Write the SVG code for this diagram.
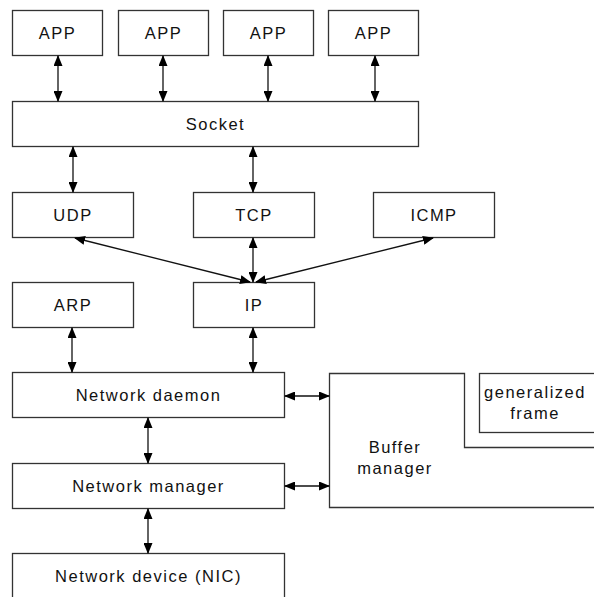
<svg xmlns="http://www.w3.org/2000/svg" width="594" height="597" viewBox="0 0 594 597">
<style>
.box{fill:#fff;stroke:#333;stroke-width:1.3}
.lbl{font-family:"Liberation Sans",Arial,sans-serif;font-size:16.5px;letter-spacing:1.5px;fill:#111;text-anchor:middle;dominant-baseline:central}
.con{stroke:#111;stroke-width:1.3;fill:none;marker-start:url(#ah);marker-end:url(#ah)}
</style>
<defs>
<marker id="ah" markerUnits="userSpaceOnUse" markerWidth="11" markerHeight="9" refX="10" refY="4.5" orient="auto-start-reverse" viewBox="0 0 11 9">
<path d="M0,0 L11,4.5 L0,9 Z" fill="#000"/>
</marker>
</defs>
<rect width="594" height="597" fill="#fff"/>
<g id="app1"><rect class="box" x="12.5" y="10.5" width="90" height="45"/><text class="lbl" x="57.5" y="32.5">APP</text></g>
<g id="app2"><rect class="box" x="118.5" y="10.5" width="90" height="45"/><text class="lbl" x="163.5" y="32.5">APP</text></g>
<g id="app3"><rect class="box" x="223.5" y="10.5" width="90" height="45"/><text class="lbl" x="268.5" y="32.5">APP</text></g>
<g id="app4"><rect class="box" x="328.5" y="10.5" width="90" height="45"/><text class="lbl" x="373.5" y="32.5">APP</text></g>
<g id="socket"><rect class="box" x="12.5" y="101.5" width="406" height="45"/><text class="lbl" x="215.5" y="123.5">Socket</text></g>
<g id="udp"><rect class="box" x="12.5" y="192.5" width="121" height="45"/><text class="lbl" x="73" y="214.5">UDP</text></g>
<g id="tcp"><rect class="box" x="193.5" y="192.5" width="121" height="45"/><text class="lbl" x="254" y="214.5">TCP</text></g>
<g id="icmp"><rect class="box" x="373.5" y="192.5" width="121" height="45"/><text class="lbl" x="434" y="214.5">ICMP</text></g>
<g id="arp"><rect class="box" x="12.5" y="282.5" width="121" height="45"/><text class="lbl" x="73" y="304.5">ARP</text></g>
<g id="ip"><rect class="box" x="193.5" y="282.5" width="121" height="45"/><text class="lbl" x="254" y="304.5">IP</text></g>
<g id="netdaemon"><rect class="box" x="12.5" y="372.5" width="272" height="45"/><text class="lbl" x="148.5" y="394.5">Network daemon</text></g>
<g id="netmanager"><rect class="box" x="12.5" y="463.5" width="272" height="45"/><text class="lbl" x="148.5" y="485.5">Network manager</text></g>
<g id="netdevice"><rect class="box" x="12.5" y="553.5" width="272" height="50"/><text class="lbl" x="148.5" y="575.5">Network device (NIC)</text></g>
<g id="buffer"><path class="box" d="M329.5,373.5 H464.5 V447.5 H600 V507.5 H329.5 Z"/><text class="lbl" x="395" y="447">Buffer</text><text class="lbl" x="395" y="468">manager</text></g>
<g id="genframe"><rect class="box" x="479.5" y="373.5" width="130" height="59"/><text class="lbl" x="535" y="392">generalized</text><text class="lbl" x="535" y="413">frame</text></g>
<g id="connectors">
<line class="con" x1="58" y1="56" x2="58" y2="101"/>
<line class="con" x1="163" y1="56" x2="163" y2="101"/>
<line class="con" x1="268" y1="56" x2="268" y2="101"/>
<line class="con" x1="375" y1="56" x2="375" y2="101"/>
<line class="con" x1="73" y1="147" x2="73" y2="192"/>
<line class="con" x1="253" y1="147" x2="253" y2="192"/>
<line class="con" x1="75" y1="238" x2="250" y2="282"/>
<line class="con" x1="253" y1="238" x2="253" y2="282"/>
<line class="con" x1="433" y1="238" x2="256" y2="282"/>
<line class="con" x1="72" y1="328" x2="72" y2="372"/>
<line class="con" x1="253" y1="328" x2="253" y2="372"/>
<line class="con" x1="285" y1="396" x2="329" y2="396"/>
<line class="con" x1="285" y1="486" x2="329" y2="486"/>
<line class="con" x1="148" y1="418" x2="148" y2="463"/>
<line class="con" x1="148" y1="509" x2="148" y2="553"/>
</g>
</svg>
